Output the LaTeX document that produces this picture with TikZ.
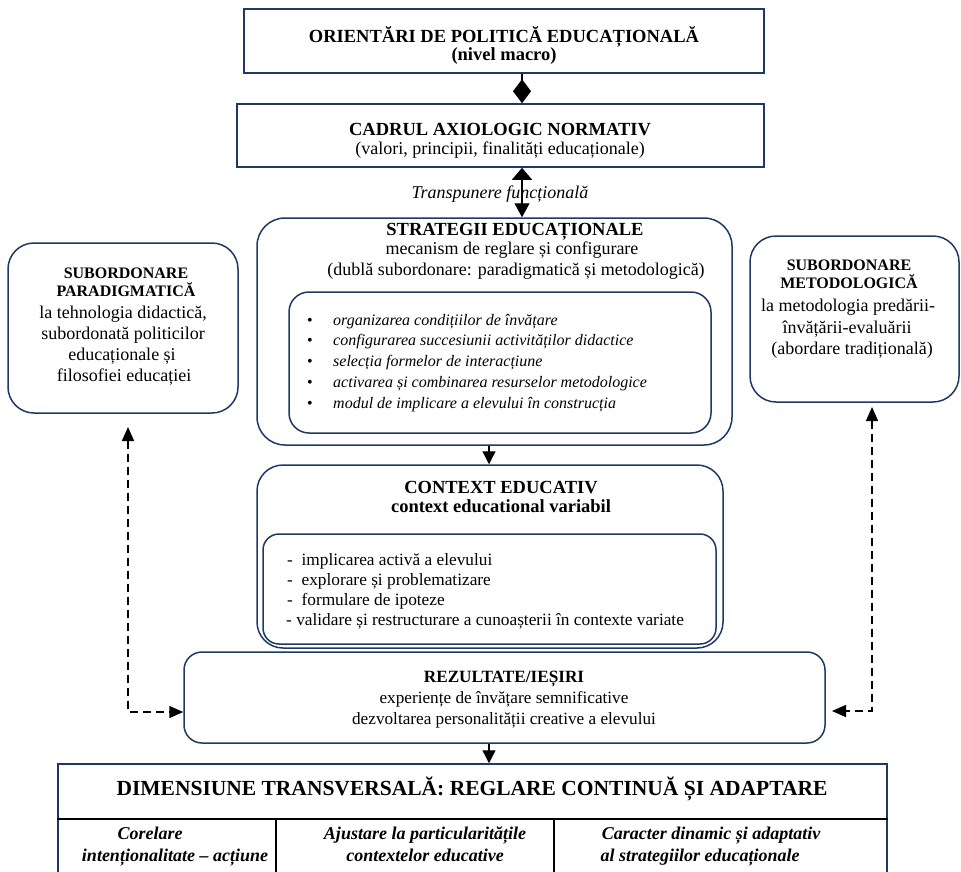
\documentclass[tikz,border=0pt]{standalone}
\usepackage{fontspec}
\setmainfont{Liberation Serif}
\usetikzlibrary{arrows.meta,calc}
\definecolor{navy}{RGB}{31,56,100}
\newcommand\fHead{\fontsize{18.5}{21}\selectfont\bfseries}
\newcommand\fReg{\fontsize{18}{21}\selectfont}
\newcommand\fSide{\fontsize{16}{18}\selectfont\bfseries}
\newcommand\fList{\fontsize{16}{21}\selectfont\itshape}
\newcommand\fCtx{\fontsize{17.3}{21}\selectfont}
\newcommand\fRes{\fontsize{17.2}{21}\selectfont}
\newcommand\fTab{\fontsize{21.5}{24}\selectfont\bfseries}
\newcommand\fTabI{\fontsize{18}{21}\selectfont\bfseries\itshape}
\tikzset{
  sqbox/.style={draw=navy, line width=1.5pt, inner sep=0pt},
  rbox/.style={sqbox, rounded corners=#1},
  txt/.style={anchor=base, inner sep=0pt, text=black},
  ltxt/.style={anchor=base west, inner sep=0pt, text=black},
  arr/.style={line width=1.3pt, -{Triangle[length=13pt,width=13pt]}},
  darr/.style={line width=1.5pt, dash pattern=on 8pt off 5pt,
    {Triangle[length=14pt,width=12pt]}-{Triangle[length=14pt,width=12pt]}},
}
\begin{document}
\begin{tikzpicture}[x=1pt,y=-1pt]
\clip (0,0) rectangle (961,871);
\fill[white] (0,0) rectangle (961,871);
% boxes
\node[sqbox, minimum width=520pt, minimum height=64pt] (top) at (504,41) {};
\node[sqbox, minimum width=527pt, minimum height=63pt] (cadru) at (500.5,135.5) {};
\node[rbox=28pt, minimum width=475pt, minimum height=227pt] (strat) at (494.5,331.5) {};
\node[rbox=20pt, minimum width=422pt, minimum height=141pt] (stratin) at (500,362.5) {};
\node[rbox=26pt, minimum width=466pt, minimum height=183pt] (ctx) at (490,556.5) {};
\node[rbox=16pt, minimum width=453pt, minimum height=110pt] (ctxin) at (489.5,589) {};
\node[rbox=26pt, minimum width=230pt, minimum height=170pt] (left) at (123,328) {};
\node[rbox=26pt, minimum width=209pt, minimum height=166pt] (right) at (854.5,319) {};
\node[rbox=18pt, minimum width=641pt, minimum height=91pt] (res) at (504.5,697.5) {};
\node[sqbox, minimum width=829pt, minimum height=140pt] (tbl) at (472.5,834) {};
% table inner lines
\coordinate (sepy) at (0,819);
\coordinate (c1) at (276,819);
\coordinate (c2) at (554,819);
\draw[line width=2pt] (tbl.west |- sepy) -- (tbl.east |- sepy);
\draw[line width=2pt] (c1) -- (c1 |- tbl.south);
\draw[line width=2pt] (c2) -- (c2 |- tbl.south);
% connectors
\coordinate (ax) at (522,0);
\coordinate (bx) at (489,0);
\draw[line width=1.3pt, -{Diamond[length=24pt,width=18pt]}] (top.south -| ax) -- (cadru.north -| ax);
\draw[line width=1.3pt, {Triangle[length=12pt,width=20pt]}-{Triangle[length=14pt,width=15pt]}] (cadru.south -| ax) -- (strat.north -| ax);
\draw[arr] (strat.south -| bx) -- (ctx.north -| bx);
\draw[arr] (res.south -| bx) -- (tbl.north -| bx);
\coordinate (lt) at (128,427);
\coordinate (lc) at (128,712);
\coordinate (rt) at (872,407);
\coordinate (rc) at (872,711);
\coordinate (rr) at (832,711);
\draw[darr] (lt) -- (lc) -- (res.west |- lc);
\draw[darr] (rt) -- (rc) -- (rr);
% texts: top
\node[txt, font=\fHead] (t1) at (504,42) {ORIENTĂRI DE POLITICĂ EDUCAȚIONALĂ};
\node[txt, font=\fHead] (t2) at (504,60) {(nivel macro)};
\node[txt, font=\fHead] (t3) at (500,135) {CADRUL AXIOLOGIC NORMATIV};
\node[txt, font=\fReg] (t4) at (500,154) {(valori, principii, finalități educaționale)};
\node[txt, font=\fReg\itshape] (t5) at (500,198) {Transpunere funcțională};
% strategy
\node[txt, font=\fHead] (s1) at (515,235) {STRATEGII EDUCAȚIONALE};
\node[txt, font=\fReg] (s2) at (512,254) {mecanism de reglare și configurare};
\node[txt, font=\fReg] (s3) at (516,275) {(dublă subordonare: paradigmatică și metodologică)};
\foreach \i/\t in {0/organizarea condițiilor de învățare,
  1/configurarea succesiunii activităților didactice,
  2/selecția formelor de interacțiune,
  3/activarea și combinarea resurselor metodologice,
  4/modul de implicare a elevului în construcția}{
  \node[txt, font=\fList\upshape] (b\i) at (310,325+20.75*\i) {•};
  \node[ltxt, font=\fList] (l\i) at (333,325+20.75*\i) {\t};
}
% context
\node[txt, font=\fHead] (k1) at (501,493) {CONTEXT EDUCATIV};
\node[txt, font=\fHead] (k2) at (501,512) {context educational variabil};
\node[ltxt, font=\fCtx] (k3) at (287,565) {-\ \ implicarea activă a elevului};
\node[ltxt, font=\fCtx] (k4) at (287,585) {-\ \ explorare și problematizare};
\node[ltxt, font=\fCtx] (k5) at (287,605) {-\ \ formulare de ipoteze};
\node[ltxt, font=\fCtx] (k6) at (286,625) {- validare și restructurare a cunoașterii în contexte variate};
% left box
\node[txt, font=\fSide] (p1) at (126,278) {SUBORDONARE};
\node[txt, font=\fSide] (p2) at (126,296) {PARADIGMATICĂ};
\node[txt, font=\fReg] (p3) at (123,318) {la tehnologia didactică,};
\node[txt, font=\fReg] (p4) at (123,339) {subordonată politicilor};
\node[txt, font=\fReg] (p5) at (122,360) {educaționale și};
\node[txt, font=\fReg] (p6) at (124,381) {filosofiei educației};
% right box
\node[txt, font=\fSide] (m1) at (849,270) {SUBORDONARE};
\node[txt, font=\fSide] (m2) at (849,288) {METODOLOGICĂ};
\node[txt, font=\fReg] (m3) at (848,311) {la metodologia predării-};
\node[txt, font=\fReg] (m4) at (847,333) {învățării-evaluării};
\node[txt, font=\fReg] (m5) at (852,354) {(abordare tradițională)};
% results
\node[txt, font=\fRes\bfseries] (r1) at (504,682) {REZULTATE/IEȘIRI};
\node[txt, font=\fRes] (r2) at (504,703) {experiențe de învățare semnificative};
\node[txt, font=\fRes] (r3) at (504,724) {dezvoltarea personalității creative a elevului};
% table
\node[txt, font=\fTab] (d1) at (472,795) {DIMENSIUNE TRANSVERSALĂ: REGLARE CONTINUĂ ȘI ADAPTARE};
\node[txt, font=\fTabI] (e1) at (150,839) {Corelare};
\node[txt, font=\fTabI] (e2) at (175,861) {intenționalitate – acțiune};
\node[txt, font=\fTabI] (e3) at (425,839) {Ajustare la particularitățile};
\node[txt, font=\fTabI] (e4) at (425,861) {contextelor educative};
\node[txt, font=\fTabI] (e5) at (711,839) {Caracter dinamic și adaptativ};
\node[txt, font=\fTabI] (e6) at (700,861) {al strategiilor educaționale};
\end{tikzpicture}
\end{document}
